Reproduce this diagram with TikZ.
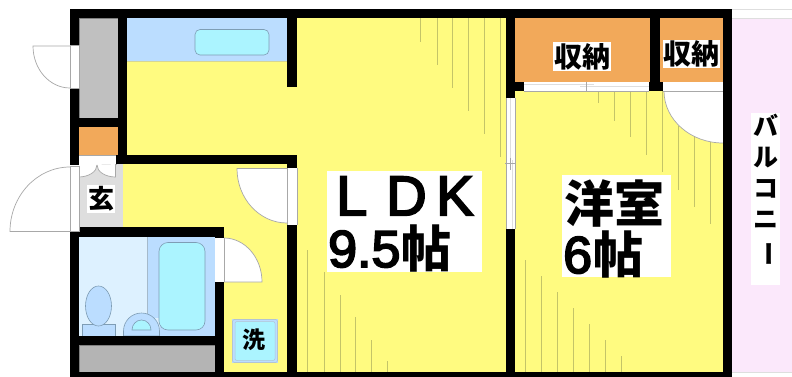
\documentclass[tikz,border=0pt]{standalone}
\usepackage{fontspec}
\usetikzlibrary{calc}
\setmainfont{Liberation Sans}
\newfontfamily\lat[FakeBold=3.5]{Liberation Sans}
\newfontfamily\jp{Noto Sans CJK JP}
\definecolor{wallc}{HTML}{000000}
\definecolor{yel}{HTML}{FFFB80}
\definecolor{sky}{HTML}{BBDDFF}
\definecolor{pale}{HTML}{DDF1FF}
\definecolor{aqua}{HTML}{ABF4FF}
\definecolor{graya}{HTML}{C0C0C0}
\definecolor{grayb}{HTML}{B4B4B4}
\definecolor{grayc}{HTML}{DEDEDE}
\definecolor{oran}{HTML}{F2A95A}
\definecolor{pinkb}{HTML}{FBE8FB}
\definecolor{olive}{HTML}{C4C468}
\definecolor{doorl}{HTML}{A8A8A8}
\definecolor{fixl}{HTML}{7E9DB5}
\tikzset{
  wall/.style={fill=wallc,draw=none},
  hatch/.style={draw=olive,line width=0.8pt},
  doorline/.style={draw=doorl,line width=0.7pt},
  fixture/.style={draw=fixl,line width=0.6pt},
}
\newcommand{\qarc}[4]{% hinge, A, corner, B
  \fill[white] (#1) -- (#2) .. controls ($(#2)!0.552!(#3)$) and ($(#4)!0.552!(#3)$) .. (#4) -- cycle;
  \draw[doorline] (#1) -- (#2) .. controls ($(#2)!0.552!(#3)$) and ($(#4)!0.552!(#3)$) .. (#4);}
\begin{document}
\begin{tikzpicture}[x=1pt,y=-1pt]
\useasboundingbox (0,0) rectangle (792,377);
\fill[white] (0,0) rectangle (792,377);
% balcony
\fill[pinkb] (732,18) rectangle (792,372);
\draw[draw=grayc,line width=0.8pt] (732,9.3) -- (792,9.3);
\draw[draw=grayc,line width=0.8pt] (732,18) -- (792,18);
\draw[draw=grayc,line width=0.8pt] (732,372) -- (792,372);
% floors
\fill[yel] (127,18) rectangle (506,164);
\fill[yel] (123,164) rectangle (288,237);
\fill[yel] (224,237) rectangle (288,372);
\fill[yel] (297,100) rectangle (506,372);
\fill[yel] (515,91) rectangle (723,372);
\fill[sky] (127,18) rectangle (287,61);
\draw[draw=olive!70,line width=0.5pt] (127,61) -- (287,61);
\fill[graya] (79,18) rectangle (118,118);
\draw[draw=gray,line width=0.4pt] (79,18) rectangle (118,118);
\fill[oran] (79,127) rectangle (118,155);
\fill[oran] (515,18) rectangle (650,82);
\fill[oran] (660,18) rectangle (723,82);
\fill[grayc] (79,164) rectangle (123,227);
\fill[pale] (79,237) rectangle (215,336);
\fill[sky] (147,237) rectangle (215,336);
\fill[pale] (147,318) rectangle (160,336);
\fill[grayb] (79,345) rectangle (215,372);
\draw[draw=gray,line width=0.4pt] (79,345) rectangle (215,372);
% hatching
\foreach \hx/\hy in {420.7/42,437/65,452.6/88,468.6/111,484.6/134,500/157}
  \draw[hatch] (\hx,18) -- (\hx,\hy);
\foreach \hx/\hy in {307/250,324/272,340/295,355.6/317,371.6/340,387.6/361}
  \draw[hatch] (\hx,\hy) -- (\hx,372);
\foreach \hx/\hy in {598/103,614/121,630/137,646/155,662/172}
  \draw[hatch] (\hx,91) -- (\hx,\hy);
\foreach \hx/\ht/\hy in {678/126/190,694/135/207,710/142/224}
  \draw[hatch] (\hx,\ht) -- (\hx,\hy);
\foreach \hx/\hy in {525/260,541.7/276,557/292,573/308,589/324,605/340,621/356}
  \draw[hatch] (\hx,\hy) -- (\hx,372);
% fixtures
\draw[fixture,fill=aqua,rounded corners=5pt] (195,29.5) rectangle (269,55);
\draw[fixture,fill=aqua,rounded corners=9pt] (159,242.5) rectangle (205,330);
\draw[draw=fixl!70,line width=0.6pt] (147,237) -- (147,314);
\draw[fixture,fill=sky] (82,324) rectangle (115,336);
\draw[fixture,fill=sky] (98.5,306) ellipse [x radius=13,y radius=20];
\draw[fixture,fill=sky] (123.5,336) -- (123.5,331) arc[start angle=180,end angle=360,x radius=18,y radius=18] -- (159.5,336) -- cycle;
\draw[fixture,fill=aqua] (132,330) arc[start angle=180,end angle=360,x radius=9.5,y radius=10] -- cycle;
\fill[sky] (232,319) rectangle (278,363);
\draw[draw=fixl!60,line width=0.7pt,rounded corners=2pt] (232.5,319.5) rectangle (277.5,362.5);
\draw[draw=fixl!60,fill=aqua,line width=0.5pt,rounded corners=2pt] (235,321.5) rectangle (275,360.5);
% door swings
\coordinate (h1) at (70,46);   \coordinate (a1) at (33,46);   \coordinate (c1) at (33,88);   \coordinate (b1) at (70,88);
\coordinate (h2) at (79,231.5);\coordinate (a2) at (10,231.5);\coordinate (c2) at (10,167);  \coordinate (b2) at (70,167);
\coordinate (h3) at (287,168.5);\coordinate (a3) at (237,168.5);\coordinate (c3) at (237,223);\coordinate (b3) at (287,223);
\coordinate (h4) at (224,282); \coordinate (a4) at (262,282);  \coordinate (c4) at (262,238);\coordinate (b4) at (224,238);
\coordinate (h5) at (723,91);  \coordinate (a5) at (664,91);  \coordinate (c5) at (664,143); \coordinate (b5) at (723,143);
\qarc{h1}{a1}{c1}{b1}
\qarc{h2}{a2}{c2}{b2}
\qarc{h3}{a3}{c3}{b3}
\qarc{h4}{a4}{c4}{b4}
\draw[doorline] (h4) -- (b4);
\qarc{h5}{a5}{c5}{b5}
% closet doors at entry
\fill[white] (78,155) rectangle (116,164);
\draw[doorline] (78,155) rectangle (116,164);
\coordinate (e0) at (97,165);
\coordinate (e1) at (78.5,177); \coordinate (e2) at (97,177); \coordinate (e3) at (115.5,177);
\fill[white] (78.5,164) -- (e1) .. controls ($(e1)!0.552!(e2)$) and ($(e0)!0.552!(e2)$) .. (e0) -- (115.5,164) -- cycle;
\fill[white] (115.5,164) -- (e3) .. controls ($(e3)!0.552!(e2)$) and ($(e0)!0.552!(e2)$) .. (e0) -- cycle;
\draw[doorline] (78.5,164) -- (e1) .. controls ($(e1)!0.552!(e2)$) and ($(e0)!0.552!(e2)$) .. (e0);
\draw[doorline] (115.5,164) -- (e3) .. controls ($(e3)!0.552!(e2)$) and ($(e0)!0.552!(e2)$) .. (e0);
% walls
\fill[wall] (70,9) rectangle (732,18);
\fill[wall] (70,9) rectangle (79,45);
\fill[wall] (70,88) rectangle (79,165);
\fill[wall] (70,118) rectangle (127,127);
\fill[wall] (118,18) rectangle (127,164);
\fill[wall] (116,155) rectangle (297,164);
\fill[wall] (287,18) rectangle (297,87);
\fill[wall] (287,164) rectangle (297,168);
\fill[wall] (287,225) rectangle (297,377);
\fill[wall] (70,227) rectangle (224,237);
\fill[wall] (70,231) rectangle (79,377);
\fill[wall] (215,227) rectangle (224,238);
\fill[wall] (215,282) rectangle (224,377);
\fill[wall] (79,336) rectangle (215,345);
\fill[wall] (70,372) rectangle (732,377);
\fill[wall] (505.5,18) rectangle (515,98);
\fill[wall] (515,82) rectangle (524,91);
\fill[wall] (505.5,229) rectangle (515,377);
\fill[wall] (650,18) rectangle (660,82);
\fill[wall] (649,82) rectangle (663,91);
\fill[wall] (723,18) rectangle (732,377);
% openings
\fill[white] (70,45) rectangle (79,88);
\draw[doorline] (70,45) rectangle (79,88);
\fill[white] (70,165) rectangle (79,231);
\draw[doorline] (70,166) rectangle (79,231);
\fill[white] (215,238) rectangle (224,282);
\fill[white] (287,168) rectangle (297,225);
\draw[doorline] (287,168) -- (287,225);
\draw[doorline] (297,168) -- (297,225);
% sliding doors
\fill[white] (505.5,98) rectangle (515,229);
\draw[doorline] (506,98) -- (506,229) (515,98) -- (515,229);
\draw[draw=grayc,line width=1pt] (510,98) -- (510,165) (512,160) -- (512,229);
\draw[doorline,line width=0.5pt] (505,163.5) -- (515,163.5) (510,158) -- (510,170);
\fill[white] (524,82) rectangle (649,91);
\draw[doorline] (524,91) -- (649,91);
\draw[draw=grayc,line width=1pt] (524,85) -- (594,85) (580,87) -- (649,87);
\draw[doorline,line width=0.5pt] (586,82) -- (586,91);
\fill[white] (663,82) rectangle (723,91);
\draw[doorline] (663,91) -- (723,91);
\draw[doorline] (h4) -- (b4);
% labels
\node[fill=white,inner sep=0pt,minimum width=155pt,minimum height=101pt,anchor=north west] (ldkbox) at (327,171) {};
\node[fill=white,inner sep=0pt,minimum width=109pt,minimum height=102pt,anchor=north west] (yoshitsubox) at (562,175) {};
\node[inner sep=0pt,anchor=west] (ldkl) at (336,196) {\lat\fontsize{56}{56}\selectfont L};
\node[inner sep=0pt,anchor=west] (ldkd) at (386,196) {\lat\fontsize{56}{56}\selectfont D};
\node[inner sep=0pt,anchor=west] (ldkk) at (436,196) {\lat\fontsize{56}{56}\selectfont K};
\node[inner sep=0pt,anchor=west] (ldkn) at (328,248) {\lat\fontsize{52}{52}\selectfont 9.5\kern1pt{\jp\bfseries\fontsize{50}{50}\selectfont 帖}};
\node[inner sep=0pt,anchor=west] (yo) at (564,203) {\jp\bfseries\fontsize{50}{50}\selectfont 洋室};
\node[inner sep=0pt,anchor=west] (yon) at (563,254) {\lat\fontsize{52}{52}\selectfont 6\kern1pt{\jp\bfseries\fontsize{50}{50}\selectfont 帖}};
\node[fill=white,inner sep=0pt,minimum width=58pt,minimum height=29pt] (sn1) at (582,57) {\jp\bfseries\fontsize{28}{28}\selectfont 収納};
\node[fill=white,inner sep=0pt,minimum width=57pt,minimum height=28pt] (sn2) at (691,54) {\jp\bfseries\fontsize{28}{28}\selectfont 収納};
\node[fill=white,inner sep=0pt,minimum width=28pt,minimum height=28pt] (gen) at (101,199) {\jp\bfseries\fontsize{26}{26}\selectfont 玄};
\node[inner sep=0pt] (sen) at (254,340) {\jp\bfseries\fontsize{23}{23}\selectfont 洗};
\node[fill=white,inner sep=0pt,minimum width=29pt,minimum height=172pt] (balbox) at (765.5,199) {};
\node[inner sep=0pt,align=center,anchor=north,font=\jp\bfseries\fontsize{25}{31}\selectfont] (bal) at (765.5,114) {バ\\ル\\コ\\ニ\\\rotatebox[origin=c]{-90}{ー}};
\end{tikzpicture}
\end{document}
